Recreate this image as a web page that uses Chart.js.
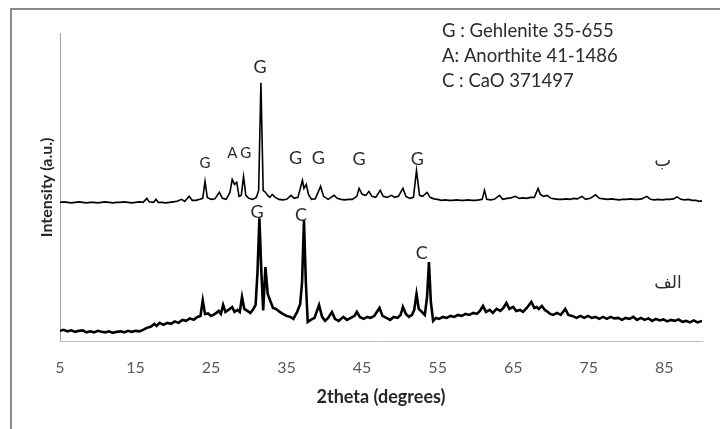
<!DOCTYPE html>
<html>
<head>
<meta charset="utf-8">
<script src="https://cdn.jsdelivr.net/npm/chart.js@4.4.1/dist/chart.umd.min.js"></script>
<style>
  body { margin: 0; background: #fff; }
  #wrap { position: relative; width: 720px; height: 429px; overflow: hidden; }
  #frame { position: absolute; left: 10px; top: 8px; width: 800px; height: 500px;
           border-left: 2px solid #8c8c8c; border-top: 2px solid #8c8c8c; }
  canvas { position: absolute; left: 0; top: 0; }
</style>
</head>
<body>
<div id="wrap">
  <div id="frame"></div>
  <canvas id="myChart" width="720" height="429"></canvas>
</div>
<script>
// x ticks shown on the axis
const tickValues = [5, 15, 25, 35, 45, 55, 65, 75, 85];

// upper pattern (ب)
const topTheta = [5, 5.5, 6, 6.5, 7, 7.5, 8, 8.5, 9, 9.5, 10, 10.5, 11, 11.5, 12, 12.5, 13, 13.5, 14, 14.5,
  15, 15.5, 16, 16.5, 16.8, 17.4, 17.7, 18, 18.5, 19, 19.5, 20, 20.5, 21.1, 21.5, 22.1, 22.5, 23, 23.5, 23.9,
  24.2, 24.5, 25, 25.5, 26.1, 26.5, 27, 27.5, 27.8, 28.1, 28.4, 28.7, 29, 29.3, 29.6, 30, 30.5, 31, 31.3, 31.6,
  31.9, 32.2, 32.5, 32.8, 33.1, 33.5, 34, 34.5, 35, 35.6, 36, 36.5, 37.1, 37.3, 37.6, 37.9, 38.3, 38.8, 39.5, 39.9,
  40.5, 41.3, 41.7, 42.2, 42.7, 43.2, 43.7, 44.3, 44.6, 45, 45.5, 45.9, 46.3, 46.8, 47.4, 47.8, 48.3, 48.9, 49.3, 49.8,
  50.4, 50.8, 51.3, 51.8, 52.2, 52.6, 53, 53.6, 54, 54.5, 55, 55.5, 56, 56.5, 57, 57.5, 58, 58.5, 59, 59.5,
  60, 60.5, 60.9, 61.2, 61.5, 62, 62.5, 63.2, 63.6, 64.2, 64.7, 65.3, 65.8, 66.3, 66.8, 67.3, 67.8, 68.3, 68.6, 69,
  69.5, 70, 70.5, 71, 71.5, 72, 72.5, 73, 73.5, 74.1, 74.6, 75.2, 75.9, 76.4, 77, 77.5, 78, 78.5, 79, 79.5,
  80, 80.5, 81, 81.5, 82, 82.7, 83.2, 83.7, 84.2, 84.7, 85.2, 85.7, 86.2, 86.7, 87.2, 87.7, 88.2, 88.7, 89.2, 89.6, 90];
const topIntensity = [140, 140.5, 140, 139.5, 140, 140.5, 140, 139.5, 140, 140, 139.5, 140, 140.5, 140, 139.5, 140, 140, 140.5, 140, 139.5,
  140, 140.5, 140, 144, 140.5, 140, 143, 140, 140, 139.5, 140, 140.5, 141, 143, 141, 146, 142, 142, 143, 144,
  161, 145, 143, 143.5, 150, 144, 143, 150, 163, 158, 160, 146, 147, 166, 147, 144, 143, 145, 152, 260,
  152, 150, 147, 145, 148, 145, 143, 142.5, 143, 147, 144, 145, 162, 154, 158, 148, 143, 143.5, 156, 146,
  143, 147, 144, 143, 142.5, 143, 143, 146, 154, 148, 147, 151, 146, 145, 152, 146, 145, 147, 145, 146,
  154, 146, 144, 145, 172, 147, 146, 150, 145, 143.5, 143, 142, 142.5, 142, 142, 142.5, 142, 142, 142.5, 142,
  142, 142.5, 143, 152, 143, 142.5, 143, 147, 143, 144, 144.5, 146, 144, 144.5, 144, 145, 145, 154, 148, 146,
  147, 144, 143.5, 143, 143, 143.5, 143, 144, 143.5, 146, 143, 144, 147.5, 144, 143.5, 143, 143.5, 143, 142.5, 143,
  143, 143.5, 143, 143, 143.5, 146, 143, 142.5, 143, 142.5, 143, 143, 143.5, 145.5, 143, 142.5, 143, 142, 142, 141, 141.5];

// lower pattern (الف)
const botTheta = [5, 5.5, 6, 6.5, 7, 7.5, 8, 8.5, 9, 9.5, 10, 10.5, 11, 11.5, 12, 12.5, 13, 13.5, 14, 14.5,
  15, 15.5, 16, 16.5, 17, 17.5, 17.8, 18.2, 18.7, 19.2, 19.7, 20.2, 20.7, 21.2, 21.7, 22.2, 22.7, 23.2, 23.6, 23.9,
  24.2, 24.6, 25, 25.3, 25.7, 26, 26.3, 26.6, 26.9, 27.3, 27.8, 28.1, 28.5, 28.8, 29.1, 29.4, 29.8, 30.2, 30.6, 30.9,
  31.15, 31.4, 31.65, 31.9, 32.2, 32.5, 32.8, 33.2, 33.6, 34.1, 34.5, 35, 35.5, 35.9, 36.4, 36.8, 37.05, 37.3, 37.55, 37.8,
  38.2, 38.7, 39.3, 39.7, 40.1, 40.5, 41, 41.4, 41.9, 42.5, 43, 43.5, 44, 44.3, 44.7, 45.2, 45.7, 46.1, 46.6, 47.3,
  47.7, 48.2, 48.7, 49.2, 49.7, 50.1, 50.4, 50.8, 51.2, 51.6, 51.9, 52.2, 52.5, 52.9, 53.3, 53.6, 53.85, 54.1, 54.4, 54.8,
  55.2, 55.7, 56.2, 56.7, 57.2, 57.7, 58.2, 58.7, 59.2, 59.7, 60.2, 60.6, 61, 61.4, 61.9, 62.3, 62.8, 63.3, 63.7, 64.1,
  64.5, 65, 65.4, 65.9, 66.3, 66.8, 67.4, 67.8, 68.1, 68.4, 68.8, 69.2, 69.6, 69.9, 70.3, 70.8, 71.3, 71.9, 72.3, 72.8,
  73.4, 73.9, 74.4, 74.9, 75.4, 75.9, 76.4, 76.9, 77.4, 77.9, 78.4, 78.9, 79.4, 79.9, 80.4, 80.9, 81.4, 81.9, 82.4, 82.9,
  83.4, 83.9, 84.4, 84.9, 85.4, 85.9, 86.4, 86.9, 87.4, 87.9, 88.4, 88.9, 89.4, 90];
const botIntensity = [11, 12, 10.5, 11.5, 10, 11, 11.5, 9.5, 10.5, 9.5, 11, 10, 9.5, 10.5, 9, 10, 10.5, 9.5, 11, 10,
  11, 10.5, 12, 14, 15, 18, 16, 19, 17, 19, 18, 20.5, 19, 22, 21, 23.5, 22, 25, 26, 41.5,
  28, 28.5, 26, 27, 29, 31, 28, 37, 30, 32, 35, 30, 32, 30, 45, 33, 31, 29, 33, 37,
  70, 124, 72, 31.5, 75, 48, 42, 34, 33, 30, 28, 26, 25, 23, 30, 38, 60, 122, 60, 20,
  22, 24, 37, 25, 21, 24, 30, 23, 21, 25, 22, 24, 26, 30, 25, 23, 25, 24, 26, 34,
  26, 24, 22, 25, 24, 27, 35, 28, 25, 27, 32, 48, 33, 30, 27, 45, 80, 40, 21, 24,
  23, 25, 24, 26, 25, 27, 26, 28, 27, 29, 28, 31, 36, 30, 32, 29, 33, 31, 34, 39,
  33, 35, 31, 32, 30, 34, 40, 34, 35, 33, 36, 32, 30, 28, 27, 29, 27, 33, 27, 26,
  24, 26, 24, 26, 24, 25, 23, 25, 23, 25, 23.5, 24, 22, 24, 23, 25, 22, 24, 22, 23.5,
  21, 23, 21.5, 22.5, 20.5, 22, 21, 22.5, 20, 21, 19.5, 21.5, 19.5, 21];

// phase marks over the peaks (text, 2theta, intensity level)
const labelText  = ['G', 'A', 'G', 'G', 'G', 'G', 'G', 'G', 'ب', 'G', 'C', 'C', 'الف'];
const labelTheta = [24.2, 27.8, 29.6, 31.5, 36.2, 39.2, 44.6, 52.3, 84.8, 31.1, 36.9, 52.9, 85.5];
const labelLevel = [179, 189, 189, 276, 184, 184, 183, 183, 181, 130, 127, 89, 58];

const legendLines = ['G : Gehlenite 35-655', 'A: Anorthite 41-1486', 'C : CaO 371497'];

const labelFont = ['15px Lato', '15px Lato', '15px Lato', '18px Lato', '18px Lato', '18px Lato', '18px Lato',
  '18px Lato', '18px "DejaVu Sans"', '18px Lato', '18px Lato', '18px Lato', '17px "DejaVu Sans"'];

const toPoints = (xs, ys) => xs.map((v, i) => ({ x: v, y: ys[i] }));

const textPlugin = {
  id: 'textPlugin',
  afterDatasetsDraw(chart) {
    const { ctx, scales: { x, y } } = chart;
    ctx.save();
    ctx.fillStyle = '#2b2b2b';
    ctx.textAlign = 'center';
    ctx.textBaseline = 'middle';
    labelText.forEach((t, i) => {
      ctx.font = labelFont[i];
      ctx.fillText(t, x.getPixelForValue(labelTheta[i]), y.getPixelForValue(labelLevel[i]));
    });
    // legend box text, top right
    ctx.textAlign = 'left';
    ctx.font = '18.5px Lato';
    legendLines.forEach((line, i) => {
      ctx.fillText(line, 442, 31 + i * 25);
    });
    ctx.restore();
  }
};

const config = {
  type: 'line',
  data: {
    datasets: [
      {
        label: 'ب',
        data: toPoints(topTheta, topIntensity),
        borderColor: '#000',
        borderWidth: 1.6,
        pointRadius: 0,
        tension: 0
      },
      {
        label: 'الف',
        data: toPoints(botTheta, botIntensity),
        borderColor: '#000',
        borderWidth: 2.6,
        pointRadius: 0,
        tension: 0
      }
    ]
  },
  options: {
    responsive: false,
    animation: false,
    devicePixelRatio: 1,
    layout: { padding: { left: 37, top: 33, right: 18, bottom: 23 } },
    plugins: {
      legend: { display: false },
      tooltip: { enabled: false }
    },
    scales: {
      x: {
        type: 'linear',
        min: 5,
        max: 90,
        afterBuildTicks: (scale) => {
          scale.ticks = tickValues.map(v => ({ value: v }));
        },
        grid: { display: false, drawTicks: false },
        border: { display: true, color: '#bdbdbd', width: 1 },
        ticks: { padding: 16, color: '#595959', font: { family: 'Lato', size: 16 } },
        title: {
          display: true,
          text: '2theta (degrees)',
          color: '#262626',
          font: { family: 'Lato', size: 18, weight: 'bold', lineHeight: 1 },
          padding: { top: -5, bottom: 0 }
        }
      },
      y: {
        min: 0,
        max: 310,
        grid: { display: false, drawTicks: false },
        border: { display: true, color: '#a6a6a6', width: 1 },
        ticks: { display: false },
        title: {
          display: true,
          text: 'Intensity (a.u.)',
          color: '#262626',
          font: { family: 'Lato', size: 16, weight: 'bold', lineHeight: 1 },
          padding: { top: 2, bottom: 5 }
        }
      }
    }
  },
  plugins: [textPlugin]
};

const myChart = new Chart(document.getElementById('myChart'), config);
</script>
</body>
</html>
